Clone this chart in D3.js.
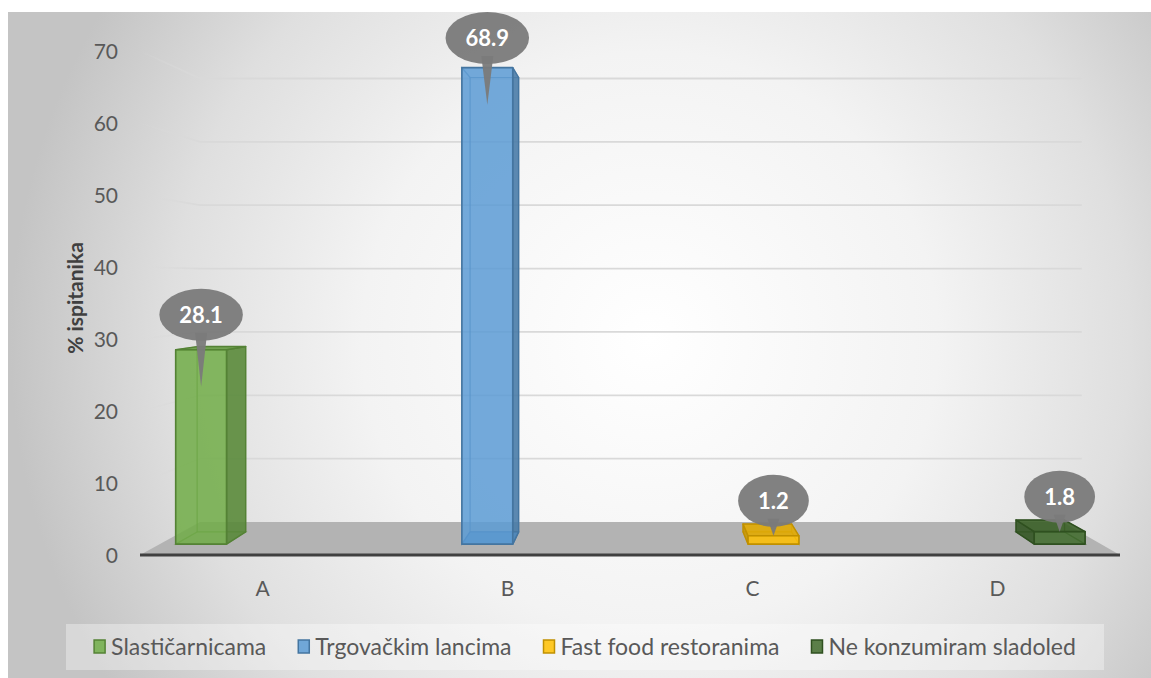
<!DOCTYPE html>
<html>
<meta charset="utf-8">
<script src="https://d3js.org/d3.v7.min.js"></script>
<style>
body{
  margin: 0;
  background-color: white;
}
text{
  font-family: Lato, "Open Sans", sans-serif;
}
.tick{
  font-size: 21px;
  fill: #595959;
}
.legendText{
  font-size: 23px;
  fill: #595959;
}
</style>
<body>
<div id="chartDiv"></div>
<script>
var categories = ["A", "B", "C", "D"];
var seriesNames = ["Slastičarnicama", "Trgovačkim lancima", "Fast food restoranima", "Ne konzumiram sladoled"];
var seriesColors = ["#70ad47", "#5b9bd5", "#ffc000", "#3f6a2a"];
// one value per category, each series only answers one category
var seriesValues = [
  [28.1, null, null, null],
  [null, 68.9, null, null],
  [null, null, 1.2, null],
  [null, null, null, 1.8]
];
var yTicks = [0, 10, 20, 30, 40, 50, 60, 70];

var width = 1151, height = 678;

var svg = d3.select("#chartDiv").append("svg").attr("width", width).attr("height", height);
var defs = svg.append("defs");

var bgGrad = defs.append("radialGradient").attr("id", "bgGrad")
  .attr("gradientUnits", "userSpaceOnUse")
  .attr("cx", 650).attr("cy", 340).attr("r", 640);
bgGrad.append("stop").attr("offset", "0").attr("stop-color", "#ffffff");
bgGrad.append("stop").attr("offset", "0.45").attr("stop-color", "#f3f3f3");
bgGrad.append("stop").attr("offset", "0.75").attr("stop-color", "#dfdfdf");
bgGrad.append("stop").attr("offset", "1").attr("stop-color", "#c4c4c4");

var wallGrad = defs.append("linearGradient").attr("id", "wallGrad")
  .attr("gradientUnits", "userSpaceOnUse")
  .attr("x1", 140).attr("x2", 200).attr("y1", 0).attr("y2", 0);
wallGrad.append("stop").attr("offset", "0").attr("stop-color", "#d9d9d9").attr("stop-opacity", 0);
wallGrad.append("stop").attr("offset", "1").attr("stop-color", "#d9d9d9").attr("stop-opacity", 1);

svg.append("rect").attr("x", 8).attr("y", 12).attr("width", width - 8).attr("height", height - 12)
  .attr("fill", "url(#bgGrad)");

// simple perspective: front plane in pixels, depth t from 0 (front) to 1 (back)
var vx = 640, vy = 280, shrink = 0.12;
var x0 = d3.scaleBand().domain(categories).range([140, 1120]).paddingInner(0.135).paddingOuter(0.0675);
var x1 = d3.scaleBand().domain(d3.range(seriesNames.length)).range([0, x0.bandwidth()]);
var y = d3.scaleLinear().domain([0, 70]).range([555, 51]);
var tFront = 0.33, tBack = 0.70;

function proj(X, v, t){
  var r = 1 - shrink * t;
  return [vx + (X - vx) * r, vy + (y(v) - vy) * r];
}
function poly(pts){
  return "M" + pts.map(function(p){ return proj(p[0], p[1], p[2]).join(","); }).join("L") + "Z";
}

var X0 = x0.range()[0], X1 = x0.range()[1];

// walls
var gridG = svg.append("g");
yTicks.filter(function(v){ return v > 0; }).forEach(function(v){
  var a = proj(X0, v, 0), b = proj(X0, v, 1), c = proj(X1 + 22, v, 1);
  gridG.append("line").attr("x1", a[0]).attr("y1", a[1]).attr("x2", b[0]).attr("y2", b[1])
    .attr("stroke", "url(#wallGrad)").attr("stroke-width", 1.8);
  gridG.append("line").attr("x1", b[0]).attr("y1", b[1]).attr("x2", c[0]).attr("y2", c[1])
    .attr("stroke", "#d9d9d9").attr("stroke-width", 1.8);
});

// floor
svg.append("path")
  .attr("d", poly([[X0, 0, 0], [X1, 0, 0], [X1, 0, 1], [X0, 0, 1]]))
  .attr("fill", "#b3b3b3");
var fl = proj(X0, 0, 0), fr = proj(X1, 0, 0);
svg.append("line").attr("x1", fl[0]).attr("y1", fl[1]).attr("x2", fr[0]).attr("y2", fr[1])
  .attr("stroke", "#404040").attr("stroke-width", 3);

// bars
var bars = [];
seriesValues.forEach(function(vals, s){
  vals.forEach(function(v, i){
    if (v == null) return;
    bars.push({series: s, cat: categories[i], value: v});
  });
});

var barG = svg.append("g");
bars.forEach(function(d){
  var a = x0(d.cat) + x1(d.series), b = a + x1.bandwidth();
  var v = d.value, f = tFront, k = tBack;
  var col = seriesColors[d.series];
  var edge = d3.color(col).darker(0.8).toString();
  var faces = {
    back:   [[a, 0, k], [b, 0, k], [b, v, k], [a, v, k]],
    left:   [[a, 0, f], [a, 0, k], [a, v, k], [a, v, f]],
    right:  [[b, 0, f], [b, 0, k], [b, v, k], [b, v, f]],
    bottom: [[a, 0, f], [b, 0, f], [b, 0, k], [a, 0, k]],
    top:    [[a, v, f], [b, v, f], [b, v, k], [a, v, k]],
    front:  [[a, 0, f], [b, 0, f], [b, v, f], [a, v, f]]
  };
  var sideSeen = b < vx ? "right" : "left";
  var sideHid = sideSeen == "right" ? "left" : "right";
  var capSeen = y(v) > vy ? "top" : "bottom";
  var capHid = capSeen == "top" ? "bottom" : "top";
  var g = barG.append("g");
  [faces.back, faces[sideHid], faces[capHid]].forEach(function(p){
    g.append("path").attr("d", poly(p))
      .attr("fill", col).attr("fill-opacity", 0.25)
      .attr("stroke", edge).attr("stroke-opacity", 0.45).attr("stroke-width", 1.2);
  });
  g.append("path").attr("d", poly(faces[sideSeen]))
    .attr("fill", d3.color(col).darker(0.7)).attr("fill-opacity", 0.85)
    .attr("stroke", edge).attr("stroke-width", 1.4).attr("stroke-linejoin", "round");
  g.append("path").attr("d", poly(faces[capSeen]))
    .attr("fill", d3.color(col).darker(0.35)).attr("fill-opacity", 0.85)
    .attr("stroke", edge).attr("stroke-width", 1.4).attr("stroke-linejoin", "round");
  g.append("path").attr("d", poly(faces.front))
    .attr("fill", col).attr("fill-opacity", 0.8)
    .attr("stroke", edge).attr("stroke-width", 1.6).attr("stroke-linejoin", "round");
  d.a = a; d.b = b;
});

// data label callouts
var labelG = svg.append("g");
bars.forEach(function(d){
  var top = proj((d.a + d.b) / 2, d.value, tFront);
  var base = proj((d.a + d.b) / 2, 0, tFront);
  var cx = top[0];
  var ry = 26;
  var cy = Math.max(top[1] - 35, 12 + ry);
  var tipY = top[1] + (base[1] - top[1] > 40 ? 37 : 0);
  var g = labelG.append("g");
  var shape = g.append("g").attr("fill", "#7a7a7a").attr("fill-opacity", 0.95);
  var txt = g.append("text").attr("x", cx).attr("y", cy).attr("dy", "0.36em")
    .attr("text-anchor", "middle").attr("fill", "white")
    .style("font-weight", "bold").style("font-size", "22px")
    .text(d3.format(".1f")(d.value));
  var rx = Math.max(txt.node().getComputedTextLength() / 2 + 20, 32);
  shape.append("path")
    .attr("d", "M" + (cx - 6) + "," + (cy + ry - 8) + "L" + (cx + 6) + "," + (cy + ry - 8) + "L" + cx + "," + tipY + "Z");
  shape.append("ellipse").attr("cx", cx).attr("cy", cy).attr("rx", rx).attr("ry", ry);
});

// axes text
var axisG = svg.append("g");
yTicks.forEach(function(v){
  axisG.append("text").attr("class", "tick")
    .attr("x", 118).attr("y", y(v)).attr("dy", "0.36em").attr("text-anchor", "end")
    .text(v);
});
categories.forEach(function(c){
  axisG.append("text").attr("class", "tick")
    .attr("x", x0(c) + x0.bandwidth() / 2).attr("y", 588).attr("dy", "0.36em")
    .attr("text-anchor", "middle").text(c);
});
svg.append("text")
  .attr("transform", "translate(75,298) rotate(-90)")
  .attr("text-anchor", "middle").attr("dy", "0.36em")
  .style("font-weight", "bold").style("font-size", "21px").attr("fill", "#404040")
  .text("% ispitanika");

// legend
var legBox = {x: 66, y: 624, w: 1038, h: 46};
svg.append("rect").attr("x", legBox.x).attr("y", legBox.y).attr("width", legBox.w).attr("height", legBox.h)
  .attr("fill", "white").attr("fill-opacity", 0.35);
var legG = svg.append("g");
var items = seriesNames.map(function(n, i){
  var g = legG.append("g");
  g.append("rect").attr("x", 0).attr("y", -7).attr("width", 11).attr("height", 13)
    .attr("fill", seriesColors[i]).attr("fill-opacity", 0.85)
    .attr("stroke", d3.color(seriesColors[i]).darker(0.8)).attr("stroke-width", 1.5);
  var t = g.append("text").attr("class", "legendText").attr("x", 17).attr("dy", "0.36em").text(n);
  return {g: g, w: 17 + t.node().getComputedTextLength()};
});
var gap = 32;
var total = d3.sum(items, function(d){ return d.w; }) + gap * (items.length - 1);
var lx = legBox.x + (legBox.w - total) / 2;
items.forEach(function(it){
  it.g.attr("transform", "translate(" + lx + "," + (legBox.y + legBox.h / 2) + ")");
  lx += it.w + gap;
});
</script>
</body>
</html>
